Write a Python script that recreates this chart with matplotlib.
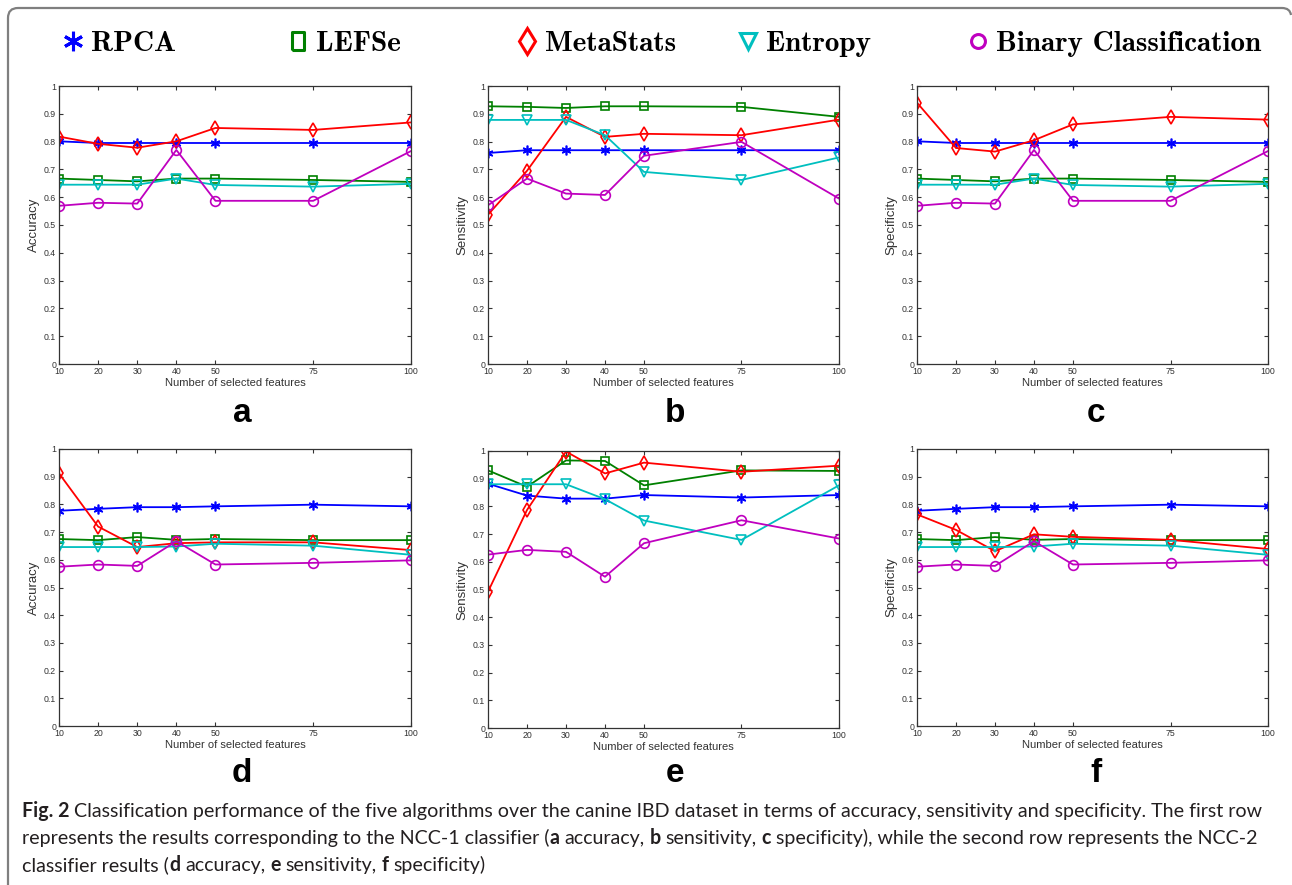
import matplotlib
matplotlib.use('Agg')
import matplotlib.pyplot as plt
from matplotlib.lines import Line2D
from matplotlib.path import Path
from matplotlib.patches import PathPatch
from matplotlib.font_manager import FontProperties

W, H = 1292, 885

FEATURES = [10, 20, 30, 40, 50, 75, 100]
X_TICK_LABELS = ['10', '20', '30', '40', '50', '75', '100']
Y_TICKS = [0, 0.1, 0.2, 0.3, 0.4, 0.5, 0.6, 0.7, 0.8, 0.9, 1.0]
Y_TICK_LABELS = ['0', '0.1', '0.2', '0.3', '0.4', '0.5', '0.6', '0.7', '0.8', '0.9', '1']
METHODS = ['RPCA', 'LEFSe', 'MetaStats', 'Entropy', 'Binary Classification']

# NCC-1 classifier
RPCA_ACC1 = [0.801, 0.795, 0.795, 0.795, 0.795, 0.795, 0.795]
LEFSE_ACC1 = [0.667, 0.662, 0.657, 0.667, 0.667, 0.662, 0.655]
META_ACC1 = [0.818, 0.792, 0.778, 0.801, 0.849, 0.842, 0.869]
ENTROPY_ACC1 = [0.645, 0.645, 0.645, 0.667, 0.644, 0.638, 0.648]
BINARY_ACC1 = [0.569, 0.580, 0.577, 0.770, 0.587, 0.587, 0.766]

RPCA_SENS1 = [0.759, 0.769, 0.769, 0.769, 0.769, 0.769, 0.769]
LEFSE_SENS1 = [0.927, 0.925, 0.921, 0.927, 0.927, 0.925, 0.889]
META_SENS1 = [0.537, 0.695, 0.889, 0.817, 0.828, 0.823, 0.879]
ENTROPY_SENS1 = [0.878, 0.878, 0.878, 0.823, 0.691, 0.662, 0.743]
BINARY_SENS1 = [0.571, 0.667, 0.613, 0.608, 0.749, 0.799, 0.595]

RPCA_SPEC1 = [0.801, 0.795, 0.795, 0.795, 0.795, 0.795, 0.795]
LEFSE_SPEC1 = [0.667, 0.662, 0.657, 0.667, 0.667, 0.662, 0.655]
META_SPEC1 = [0.940, 0.777, 0.764, 0.805, 0.862, 0.889, 0.879]
ENTROPY_SPEC1 = [0.645, 0.645, 0.645, 0.667, 0.644, 0.638, 0.648]
BINARY_SPEC1 = [0.569, 0.580, 0.577, 0.770, 0.587, 0.587, 0.766]

# NCC-2 classifier
RPCA_ACC2 = [0.777, 0.784, 0.790, 0.790, 0.793, 0.799, 0.793]
LEFSE_ACC2 = [0.675, 0.671, 0.682, 0.672, 0.675, 0.671, 0.671]
META_ACC2 = [0.912, 0.720, 0.646, 0.660, 0.663, 0.663, 0.635]
ENTROPY_ACC2 = [0.646, 0.646, 0.646, 0.648, 0.658, 0.651, 0.618]
BINARY_ACC2 = [0.575, 0.583, 0.578, 0.667, 0.583, 0.589, 0.598]

RPCA_SENS2 = [0.882, 0.839, 0.828, 0.828, 0.841, 0.832, 0.841]
LEFSE_SENS2 = [0.930, 0.871, 0.966, 0.964, 0.876, 0.930, 0.928]
META_SENS2 = [0.492, 0.787, 0.998, 0.919, 0.958, 0.925, 0.947]
ENTROPY_SENS2 = [0.880, 0.880, 0.880, 0.826, 0.749, 0.679, 0.876]
BINARY_SENS2 = [0.626, 0.643, 0.636, 0.546, 0.667, 0.750, 0.684]

RPCA_SPEC2 = [0.777, 0.784, 0.790, 0.790, 0.793, 0.799, 0.793]
LEFSE_SPEC2 = [0.675, 0.671, 0.682, 0.672, 0.675, 0.671, 0.671]
META_SPEC2 = [0.764, 0.708, 0.631, 0.692, 0.683, 0.672, 0.639]
ENTROPY_SPEC2 = [0.646, 0.646, 0.646, 0.648, 0.658, 0.651, 0.618]
BINARY_SPEC2 = [0.575, 0.583, 0.578, 0.667, 0.583, 0.589, 0.598]

CAPTION = [
    [('Fig. 2', True), (' Classification performance of the five algorithms over the canine IBD dataset '
                        'in terms of accuracy, sensitivity and specificity. The first row', False)],
    [('represents the results corresponding to the NCC-1 classifier (', False), ('a', True),
     (' accuracy, ', False), ('b', True), (' sensitivity, ', False), ('c', True),
     (' specificity), while the second row represents the NCC-2', False)],
    [('classifier results (', False), ('d', True), (' accuracy, ', False), ('e', True),
     (' sensitivity, ', False), ('f', True), (' specificity)', False)],
]

COLORS = ['#0000ff', '#008000', '#ff0000', '#00bfbf', '#bf00bf']
MARKERS = [(6, 2, 0), 's', 'd', 'v', 'o']
MSIZES = [7, 5.5, 7.5, 6.5, 7]
CAPTION_FONT = 'Lato'


def px_axes(fig, left, top, right, bottom):
    return fig.add_axes([left / W, 1 - bottom / H, (right - left) / W, (bottom - top) / H])


def draw_panel(ax, series, ylabel):
    for vals, c, m, ms in zip(series, COLORS, MARKERS, MSIZES):
        ax.plot(FEATURES, vals, color=c, marker=m, ms=ms, mfc='none', mew=1.2, lw=1.3)
    ax.set_xlim(10, 100)
    ax.set_ylim(0, 1)
    ax.set_xticks(FEATURES)
    ax.set_xticklabels(X_TICK_LABELS)
    ax.set_yticks(Y_TICKS)
    ax.set_yticklabels(Y_TICK_LABELS)
    ax.tick_params(direction='in', top=True, right=True, length=3, width=0.8,
                   labelsize=6.3, pad=2, colors='#333333')
    for sp in ax.spines.values():
        sp.set_linewidth(0.9)
        sp.set_color('#333333')
    ax.set_xlabel('Number of selected features', fontsize=8.0, labelpad=1.5, color='#333333')
    ax.set_ylabel(ylabel, fontsize=9.5, color='#333333')
    ax.yaxis.set_label_coords(-0.055, 0.5)


def draw_caption(fig, renderer):
    def width(s, size, bold):
        fp = FontProperties(family=CAPTION_FONT, size=size, weight='bold' if bold else 'normal')
        w, _, _ = renderer.get_text_width_height_descent(s, fp, ismath=False)
        return w

    def line_width(runs, size):
        sp = width('x x', size, False) - width('xx', size, False)
        total = 0
        for txt, bold in runs:
            core = txt.strip()
            total += (len(txt) - len(txt.lstrip())) * sp
            total += width(core, size, bold)
            total += (len(txt) - len(txt.rstrip())) * sp
        return total

    size = 12.0 * 1240 / line_width(CAPTION[0], 12.0)
    sp = width('x x', size, False) - width('xx', size, False)
    baselines = [817, 844, 871]
    for runs, yb in zip(CAPTION, baselines):
        x = 22
        for txt, bold in runs:
            core = txt.strip()
            x += (len(txt) - len(txt.lstrip())) * sp
            fig.text(x / W, 1 - yb / H, core, fontsize=size, family=CAPTION_FONT,
                     fontweight='bold' if bold else 'normal', va='baseline', ha='left',
                     color='#231f20')
            x += width(core, size, bold)
            x += (len(txt) - len(txt.rstrip())) * sp


def main():
    plt.rcParams['font.family'] = ['Liberation Sans', 'DejaVu Sans']
    fig = plt.figure(figsize=(W / 100, H / 100), dpi=100)

    panels = [
        ((59, 86, 411, 364), 'Accuracy', 'a', (242, 414),
         [RPCA_ACC1, LEFSE_ACC1, META_ACC1, ENTROPY_ACC1, BINARY_ACC1]),
        ((488, 86, 839, 364), 'Sensitivity', 'b', (675, 414),
         [RPCA_SENS1, LEFSE_SENS1, META_SENS1, ENTROPY_SENS1, BINARY_SENS1]),
        ((917, 86, 1268, 364), 'Specificity', 'c', (1096, 414),
         [RPCA_SPEC1, LEFSE_SPEC1, META_SPEC1, ENTROPY_SPEC1, BINARY_SPEC1]),
        ((59, 449, 411, 726), 'Accuracy', 'd', (242, 773),
         [RPCA_ACC2, LEFSE_ACC2, META_ACC2, ENTROPY_ACC2, BINARY_ACC2]),
        ((488, 451, 839, 728), 'Sensitivity', 'e', (675, 773),
         [RPCA_SENS2, LEFSE_SENS2, META_SENS2, ENTROPY_SENS2, BINARY_SENS2]),
        ((917, 449, 1268, 726), 'Specificity', 'f', (1096, 773),
         [RPCA_SPEC2, LEFSE_SPEC2, META_SPEC2, ENTROPY_SPEC2, BINARY_SPEC2]),
    ]
    for rect, ylabel, letter, (lx, ly), series in panels:
        ax = px_axes(fig, *rect)
        draw_panel(ax, series, ylabel)
        fig.text(lx / W, 1 - ly / H, letter, fontsize=24, fontweight='bold',
                 ha='center', va='center', color='black')

    # legend row across the top
    legend_markers = [(6, 2, 0), [(-0.7, -1), (0.7, -1), (0.7, 1), (-0.7, 1), (-0.7, -1)],
                      'd', 'v', 'o']
    legend_ms = [14, 13, 13, 11, 10]
    anchors = [63, 288, 517, 738, 968]
    for name, c, m, ms, ax_x in zip(METHODS, COLORS, legend_markers, legend_ms, anchors):
        h = Line2D([], [], color=c, marker=m, ls='none', ms=ms, mfc='none', mew=2.2)
        fig.legend([h], [name], loc='center left', bbox_to_anchor=(ax_x / W, 1 - 44 / H),
                   frameon=False, handlelength=0.7, handletextpad=0.25, borderpad=0,
                   borderaxespad=0, prop={'family': 'cmb10', 'size': 21})

    # rounded border of the figure panel
    verts = [(8, H + 2), (8, 18), (8, 8), (18, 8), (1282, 8), (1290, 8), (1291, 15)]
    codes = [Path.MOVETO, Path.LINETO, Path.CURVE3, Path.CURVE3, Path.LINETO,
             Path.CURVE3, Path.CURVE3]
    verts = [(x / W, 1 - y / H) for x, y in verts]
    fig.add_artist(PathPatch(Path(verts, codes), transform=fig.transFigure,
                             fill=False, edgecolor='#7f7f7f', lw=1.6))

    renderer = fig.canvas.get_renderer()
    draw_caption(fig, renderer)

    fig.savefig('out.png', dpi=100)


if __name__ == '__main__':
    main()
